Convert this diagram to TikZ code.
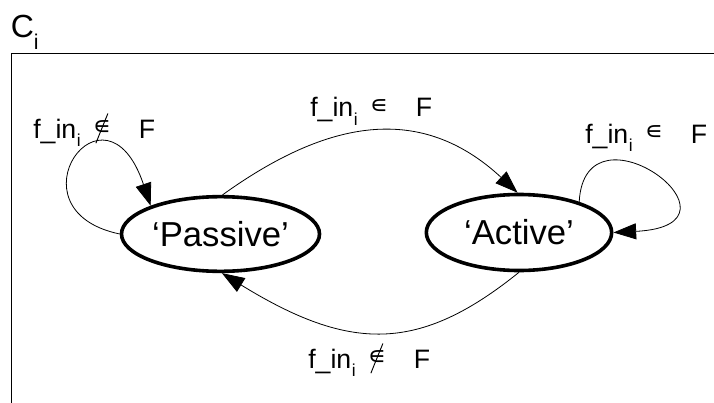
\documentclass[tikz,border=0pt]{standalone}
\usepackage{fontspec}
\usepackage{graphicx}
\setmainfont{Liberation Sans}
\newfontfamily\dejavu{DejaVu Sans}
\usetikzlibrary{shapes.geometric,arrows.meta}
\newcommand\subi{\kern0.5pt\raisebox{-6pt}{\fontsize{13}{13}\selectfont i}}
\newcommand\elemsym{\raisebox{2.5pt}{\dejavu\fontsize{19}{19}\selectfont ∊}}
\newcommand\nelemsym{\rlap{\kern2pt\raisebox{-3.75pt}{\rotatebox{-22}{\rule{0.7pt}{24pt}}}}\elemsym}
\begin{document}
\begin{tikzpicture}[x=0.75pt,y=-0.75pt,
  state/.style={ellipse,draw,line width=2.7pt,inner sep=0pt,font=\fontsize{26}{26}\selectfont},
  edge/.style={line width=0.6pt,-{Triangle[length=17pt,width=12pt]}},
  lbl/.style={anchor=base west,inner sep=0pt,font=\fontsize{20}{20}\selectfont},
  frame/.style={line width=0.7pt}]
\useasboundingbox (0,0) rectangle (714,403);
\draw[frame] (11,403) -- (11,53) -- (714,53);
\node[anchor=base west,inner sep=0pt,font=\fontsize{24}{24}\selectfont] (title) at (10.5,38) {C\raisebox{-9pt}{\fontsize{16}{16}\selectfont i}};
\node[state,minimum width=148.5pt,minimum height=56pt] (P) at (220.5,234) {‘Passive’};
\node[state,minimum width=139pt,minimum height=57pt] (A) at (519,232.5) {‘Active’};
\draw[edge] (P.87) .. controls (328,119) and (421,103) .. (A.92);
\draw[edge] (A.south) .. controls (419,353) and (350,352) .. (P.-88);
\draw[edge] (P.west) .. controls (5,210) and (105,70) .. (P.158);
\draw[edge] (A.27) .. controls (585,95) and (760,225) .. (A.east);
\node[lbl] (l1) at (33,138) {f\_in\subi\hspace{9pt}\nelemsym\hspace{21pt}F};
\node[lbl] (l2) at (310,117) {f\_in\subi\hspace{9pt}\elemsym\hspace{21pt}F};
\node[lbl] (l3) at (585,143) {f\_in\subi\hspace{9pt}\elemsym\hspace{21pt}F};
\node[lbl] (l4) at (308,368) {f\_in\subi\hspace{9pt}\nelemsym\hspace{21pt}F};
\end{tikzpicture}
\end{document}
